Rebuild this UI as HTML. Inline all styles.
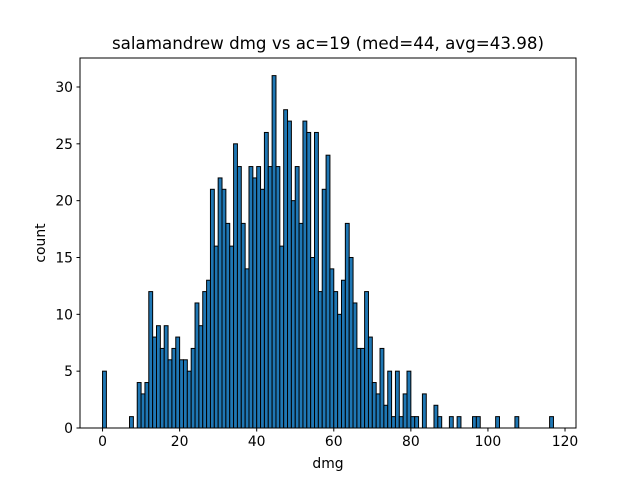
<!DOCTYPE html>
<html><head><meta charset="utf-8"><style>
html,body{margin:0;padding:0;background:#fff;}
svg{display:block;font-family:"DejaVu Sans","Liberation Sans",sans-serif;}
</style></head><body>
<svg id="chart" width="640" height="480" viewBox="0 0 640 480">
<rect width="640" height="480" fill="#fff"/>
<text x="328" y="49" font-size="16.7" text-anchor="middle">salamandrew dmg vs ac=19 (med=44, avg=43.98)</text>
<g id="bars"></g>
<g id="xticks"></g>
<g id="yticks"></g>
<rect x="80" y="58" width="496" height="370" fill="none" stroke="#000" stroke-width="1"/>
<text x="328" y="468" font-size="13.9" text-anchor="middle">dmg</text>
<text x="45" y="243" font-size="13.9" text-anchor="middle" transform="rotate(-90 45 243)">count</text>
</svg>
<script>
const binStart = 0;
const counts = [5,0,0,0,0,0,0,1,0,4,3,4,12,8,9,7,9,6,7,8,6,6,5,7,11,9,12,13,21,16,22,21,18,16,25,23,18,14,23,22,23,21,26,23,31,23,16,28,27,20,23,18,27,26,15,26,12,21,24,14,12,10,13,18,15,11,7,7,12,8,4,3,7,2,5,1,5,1,3,5,1,1,0,3,0,0,2,1,0,0,1,0,1,0,0,0,1,1,0,0,0,0,1,0,0,0,0,1,0,0,0,0,0,0,0,0,1];
const xTicks = [0,20,40,60,80,100,120];
const yTicks = [0,5,10,15,20,25,30];

const NS = "http://www.w3.org/2000/svg";
const L = 80, R = 576, T = 58, B = 428;
const xMinD = binStart, xMaxD = binStart + counts.length;
const xPad = (xMaxD - xMinD) * 0.05;
const x0 = xMinD - xPad, x1 = xMaxD + xPad;
const yMax = Math.max(...counts) * 1.05;
function xs(v){ return L + (v - x0) / (x1 - x0) * (R - L); }
function ys(v){ return B - v / yMax * (B - T); }

const bars = document.getElementById('bars');
counts.forEach((c, i) => {
  if (c <= 0) return;
  const r = document.createElementNS(NS, 'rect');
  const xa = xs(binStart + i), xb = xs(binStart + i + 1);
  r.setAttribute('x', xa); r.setAttribute('width', xb - xa);
  r.setAttribute('y', ys(c)); r.setAttribute('height', ys(0) - ys(c));
  r.setAttribute('fill', '#1f77b4'); r.setAttribute('stroke', '#000'); r.setAttribute('stroke-width', '1');
  
  
  bars.appendChild(r);
});

const xg = document.getElementById('xticks');
xTicks.forEach(t => {
  const px = xs(t);
  const ln = document.createElementNS(NS, 'line');
  ln.setAttribute('x1', px); ln.setAttribute('x2', px); ln.setAttribute('y1', B); ln.setAttribute('y2', B + 3.5);
  ln.setAttribute('stroke', '#000');
  
  
  xg.appendChild(ln);
  const tx = document.createElementNS(NS, 'text');
  tx.setAttribute('x', px); tx.setAttribute('y', B + 18); tx.setAttribute('font-size', '13.9');
  tx.setAttribute('text-anchor', 'middle'); tx.textContent = t;
  
  
  xg.appendChild(tx);
});
const yg = document.getElementById('yticks');
yTicks.forEach(t => {
  const py = ys(t);
  const ln = document.createElementNS(NS, 'line');
  ln.setAttribute('x1', L - 3.5); ln.setAttribute('x2', L); ln.setAttribute('y1', py); ln.setAttribute('y2', py);
  ln.setAttribute('stroke', '#000');
  
  
  yg.appendChild(ln);
  const tx = document.createElementNS(NS, 'text');
  tx.setAttribute('x', L - 7); tx.setAttribute('y', py + 5); tx.setAttribute('font-size', '13.9');
  tx.setAttribute('text-anchor', 'end'); tx.textContent = t;
  
  
  yg.appendChild(tx);
});
</script>
</body></html>
